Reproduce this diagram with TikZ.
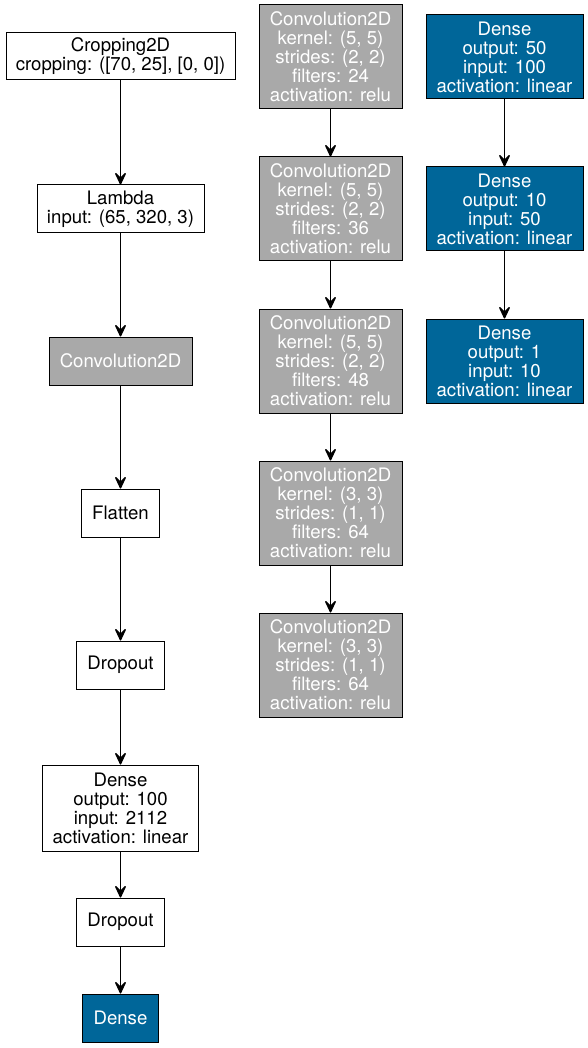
\documentclass[tikz,border=0pt]{standalone}
\usepackage{fontspec}
\setmainfont{TeX Gyre Heros}
\usetikzlibrary{arrows.meta}
\definecolor{layergray}{RGB}{169,169,169}
\definecolor{layerblue}{RGB}{0,102,153}

\begin{document}
\begin{tikzpicture}[x=1pt, y=-1pt,
    layer/.style={draw=black, line width=1pt, align=center, inner sep=0pt,
        font=\fontsize{18.6}{19}\selectfont},
    plain/.style={layer, fill=white},
    conv/.style={layer, fill=layergray, text=white},
    dense/.style={layer, fill=layerblue, text=white},
    flow/.style={-{Stealth[length=15pt, width=14pt, inset=7pt, round]}, line width=1.4pt}]
    \useasboundingbox (0,0) rectangle (588,1048);
    % Left column: main model
    \node[plain, minimum width=229, minimum height=47] (crop) at (120.5,56.5)
        {Cropping2D\\cropping: ([70, 25], [0, 0])};
    \node[plain, minimum width=167, minimum height=48] (lambda) at (120.5,209)
        {Lambda\\input: (65, 320, 3)};
    \node[conv, minimum width=143, minimum height=48] (convall) at (120.5,361)
        {Convolution2D};
    \node[plain, minimum width=78, minimum height=48] (flatten) at (120.5,513)
        {Flatten};
    \node[plain, minimum width=88, minimum height=48] (drop1) at (120.5,665)
        {Dropout};
    \node[plain, minimum width=156, minimum height=86] (dense100) at (120.5,808)
        {Dense\\output: 100\\input: 2112\\activation: linear};
    \node[plain, minimum width=88, minimum height=48] (drop2) at (120.5,922)
        {Dropout};
    \node[dense, minimum width=76, minimum height=48] (denseall) at (120.5,1018)
        {Dense};
    \draw[flow] (crop) -- (lambda);
    \draw[flow] (lambda) -- (convall);
    \draw[flow] (convall) -- (flatten);
    \draw[flow] (flatten) -- (drop1);
    \draw[flow] (drop1) -- (dense100);
    \draw[flow] (dense100) -- (drop2);
    \draw[flow] (drop2) -- (denseall);
    % Middle column: the Convolution2D block
    \foreach \i/\k/\s/\f in {1/5/2/24, 2/5/2/36, 3/5/2/48, 4/3/1/64, 5/3/1/64} {
        \pgfmathsetmacro{\yc}{57 + (\i-1)*152}
        \node[conv, minimum width=143, minimum height=104] (conv\i) at (330.5,\yc)
            {Convolution2D\\kernel: (\k, \k)\\strides: (\s, \s)\\filters: \f\\activation: relu};
    }
    \foreach \i [evaluate=\i as \j using int(\i+1)] in {1,...,4} {
        \draw[flow] (conv\i) -- (conv\j);
    }
    % Right column: the Dense block
    \foreach \i/\o/\n in {1/50/100, 2/10/50, 3/1/10} {
        \pgfmathsetmacro{\yc}{57 + (\i-1)*152}
        \node[dense, minimum width=157, minimum height=84] (dense\i) at (504.5,\yc)
            {Dense\\output: \o\\input: \n\\activation: linear};
    }
    \draw[flow] (dense1) -- (dense2);
    \draw[flow] (dense2) -- (dense3);
\end{tikzpicture}
\end{document}
